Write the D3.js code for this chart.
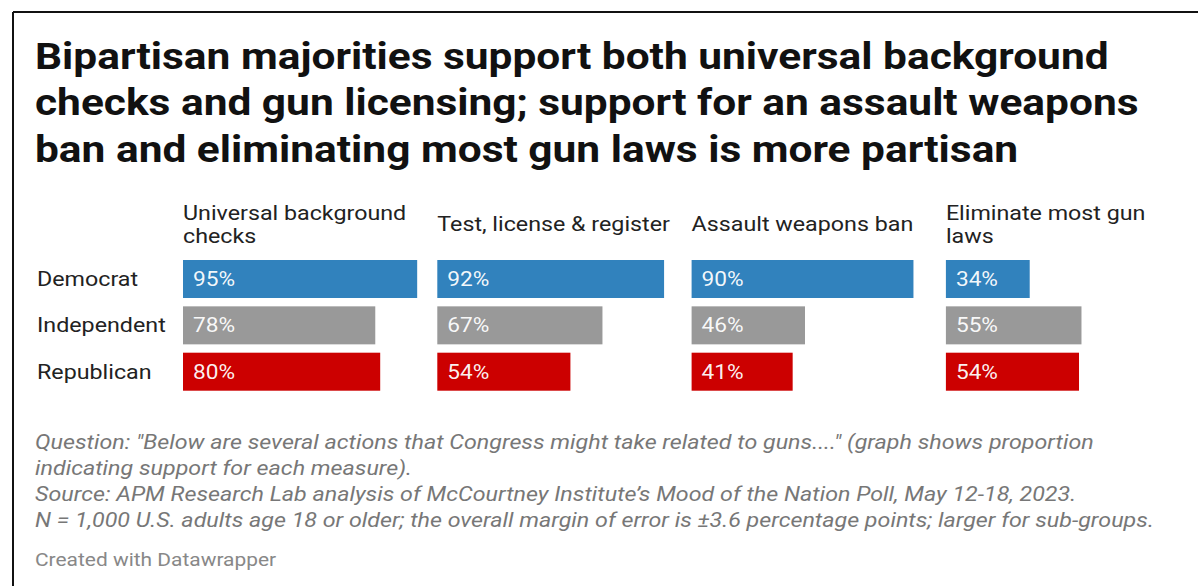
<!DOCTYPE html>
<html>
<head>
<meta charset="utf-8">
<script src="https://cdn.jsdelivr.net/npm/d3@7"></script>
<style>
  html, body { margin: 0; padding: 0; background: #fff; }
  svg { display: block; font-family: Roboto, "Noto Sans", sans-serif; }
</style>
</head>
<body>
<svg id="chart" width="1198" height="586"></svg>
<script>
// Survey results: share supporting each measure, by party
const measures = ["Universal background checks", "Test, license & register", "Assault weapons ban", "Eliminate most gun laws"];
const measureHeadings = [["Universal background", "checks"], ["Test, license & register"], ["Assault weapons ban"], ["Eliminate most gun", "laws"]];
const parties = ["Democrat", "Independent", "Republican"];
const democrat = [95, 92, 90, 34];
const independent = [78, 67, 46, 55];
const republican = [80, 54, 41, 54];
const partyColors = ["#3182bd", "#999999", "#cc0000"];

const titleLines = [
  "Bipartisan majorities support both universal background",
  "checks and gun licensing; support for an assault weapons",
  "ban and eliminating most gun laws is more partisan"
];
const notesLines = [
  "Question: \"Below are several actions that Congress might take related to guns....\" (graph shows proportion",
  "indicating support for each measure).",
  "Source: APM Research Lab analysis of McCourtney Institute\u2019s Mood of the Nation Poll, May 12-18, 2023.",
  "N = 1,000 U.S. adults age 18 or older; the overall margin of error is \u00b13.6 percentage points; larger for sub-groups."
];
const creditText = "Created with Datawrapper";

// wide text setting used throughout the graphic
const SX = 1.163;
const place = (x, y) => `translate(${x},${y}) scale(${SX},1)`;

const seriesByParty = [democrat, independent, republican];
const rows = [];
parties.forEach((p, pi) => {
  measures.forEach((m, mi) => {
    rows.push({ party: p, measure: m, value: seriesByParty[pi][mi], color: partyColors[pi] });
  });
});

const svg = d3.select("#chart");

// frame
svg.append("line").attr("x1", 13).attr("x2", 1198).attr("y1", 12).attr("y2", 12)
  .attr("stroke", "#111").attr("stroke-width", 2);
svg.append("line").attr("x1", 13).attr("x2", 13).attr("y1", 12).attr("y2", 586)
  .attr("stroke", "#111").attr("stroke-width", 2);

// title
svg.append("text")
  .attr("transform", place(35, 69))
  .attr("font-size", 36.5).attr("font-weight", 700).attr("fill", "#111")
  .selectAll("tspan").data(titleLines).join("tspan")
  .attr("x", 0).attr("dy", (d, i) => i === 0 ? 0 : 46.5)
  .text(d => d);

// scales
const step = 254.3, band = 247;
const col = d3.scaleBand().domain(measures)
  .range([183, 183 + step * (measures.length - (step - band) / step)])
  .paddingInner((step - band) / step).paddingOuter(0);
const x = d3.scaleLinear().domain([0, 100]).range([0, 246.5]);
const y = d3.scaleBand().domain(parties).range([260, 390.7]).paddingInner(0.18).paddingOuter(0);

// column headings
const heads = svg.append("g").attr("font-size", 20).attr("fill", "#222");
measures.forEach((m, i) => {
  const lines = measureHeadings[i];
  const base = lines.length === 1 ? 231 : 219.5;
  heads.append("text")
    .attr("transform", place(col(m), base))
    .selectAll("tspan").data(lines).join("tspan")
    .attr("x", 0).attr("dy", (d, j) => j === 0 ? 0 : 24)
    .text(d => d);
});

// row labels
svg.append("g").selectAll("text").data(parties).join("text")
  .attr("transform", d => place(37, y(d) + y.bandwidth() / 2 + 7))
  .attr("font-size", 20).attr("fill", "#222")
  .text(d => d);

// bars
const bars = svg.append("g");
bars.selectAll("rect").data(rows).join("rect")
  .attr("x", d => col(d.measure))
  .attr("y", d => y(d.party))
  .attr("width", d => x(d.value))
  .attr("height", y.bandwidth())
  .attr("fill", d => d.color);

bars.selectAll("text").data(rows).join("text")
  .attr("transform", d => place(col(d.measure) + 10, y(d.party) + y.bandwidth() / 2 + 7))
  .attr("font-size", 19.5).attr("fill", "#fff").attr("fill-opacity", 0.95)
  .text(d => d.value + "%");

// notes
svg.append("text")
  .attr("transform", place(35, 449))
  .attr("font-size", 20).attr("font-style", "italic").attr("fill", "#777")
  .selectAll("tspan").data(notesLines).join("tspan")
  .attr("x", 0).attr("dy", (d, i) => i === 0 ? 0 : 26)
  .text(d => d);

svg.append("text")
  .attr("transform", place(35, 566))
  .attr("font-size", 18).attr("fill", "#888")
  .text(creditText);
</script>
</body>
</html>
